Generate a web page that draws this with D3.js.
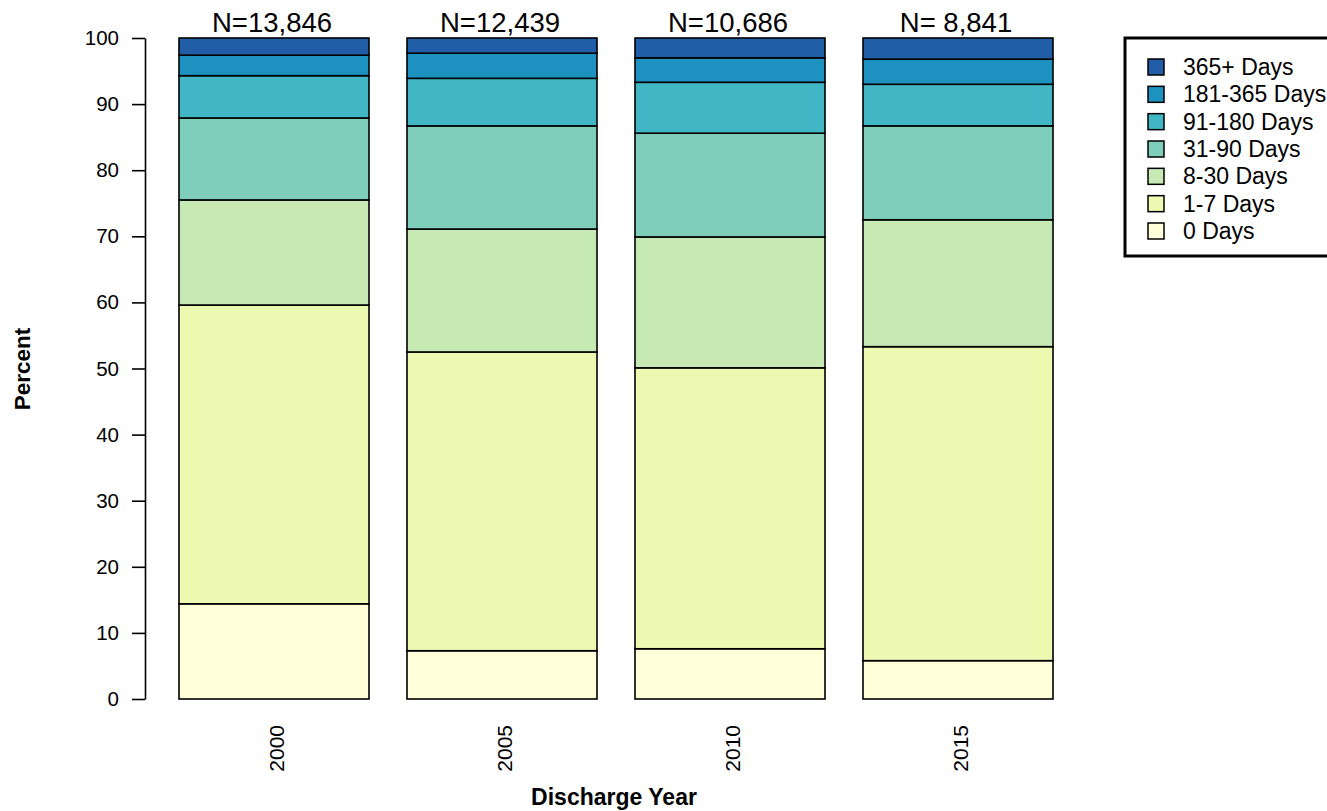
<!DOCTYPE html>
<html>
<head>
<meta charset="utf-8">
<script src="https://cdn.jsdelivr.net/npm/d3@7"></script>
<style>
  html, body { margin: 0; padding: 0; background: #fff; }
  svg { display: block; font-family: "Liberation Sans", Arial, sans-serif; }
</style>
</head>
<body>
<svg id="chart" width="1327" height="811"></svg>
<script>
// ---- data ----
const years = ["2000", "2005", "2010", "2015"];
const nLabels = ["N=13,846", "N=12,439", "N=10,686", "N= 8,841"];
const categories = ["0 Days", "1-7 Days", "8-30 Days", "31-90 Days", "91-180 Days", "181-365 Days", "365+ Days"];
const colors = ["#ffffd9", "#edf8b1", "#c7e9b4", "#7fcdbb", "#41b6c4", "#1d91c0", "#225ea8"];
const days0     = [14.4, 7.3, 7.6, 5.8];
const days1to7  = [45.2, 45.2, 42.5, 47.5];
const days8to30 = [15.9, 18.6, 19.8, 19.2];
const days31to90 = [12.4, 15.6, 15.7, 14.2];
const days91to180 = [6.4, 7.2, 7.7, 6.3];
const days181to365 = [3.1, 3.8, 3.7, 3.8];
const days365plus = [2.6, 2.3, 3.0, 3.2];
const yTicks = [0, 10, 20, 30, 40, 50, 60, 70, 80, 90, 100];

const seriesValues = [days0, days1to7, days8to30, days31to90, days91to180, days181to365, days365plus];
const table = years.map((yr, i) => {
  const row = { year: yr };
  categories.forEach((c, k) => row[c] = seriesValues[k][i]);
  return row;
});

const svg = d3.select("#chart");
const y = d3.scaleLinear().domain([0, 100]).range([699, 38]);
const x = d3.scaleBand().domain(years).range([141, 1091]).paddingInner(38 / 228).paddingOuter(38 / 228);
const color = d3.scaleOrdinal().domain(categories).range(colors);

const stack = d3.stack().keys(categories)(table);

// bars
svg.append("g").selectAll("g").data(stack).join("g")
  .attr("fill", d => color(d.key))
  .selectAll("rect").data(d => d).join("rect")
  .attr("x", d => x(d.data.year))
  .attr("width", x.bandwidth())
  .attr("y", d => y(d[1]))
  .attr("height", d => y(d[0]) - y(d[1]))
  .attr("stroke", "#000")
  .attr("stroke-width", 1.6);

// y axis
const yAxis = svg.append("g").attr("transform", "translate(145,0)")
  .call(d3.axisLeft(y).tickValues(yTicks).tickSize(13).tickSizeOuter(0).tickPadding(13));
yAxis.attr("font-size", 20.5).attr("font-family", '"Liberation Sans", Arial, sans-serif');
yAxis.select(".domain").attr("stroke", "#000").attr("stroke-width", 1.6);
yAxis.selectAll(".tick line").attr("stroke", "#000").attr("stroke-width", 1.6);
yAxis.selectAll("text").attr("fill", "#000");

// x labels (rotated)
svg.append("g").selectAll("text").data(years).join("text")
  .attr("transform", d => `translate(${x(d) + x.bandwidth() / 2 + 3},725) rotate(-90)`)
  .attr("text-anchor", "end")
  .attr("dy", "0.35em")
  .attr("font-size", 21)
  .attr("fill", "#000")
  .text(d => d);

// N labels
svg.append("g").selectAll("text").data(years).join("text")
  .attr("x", d => x(d) + x.bandwidth() / 2 - 2)
  .attr("y", 32)
  .attr("text-anchor", "middle")
  .attr("font-size", 27.5)
  .attr("fill", "#000")
  .text((d, i) => nLabels[i]);

// axis titles
svg.append("text")
  .attr("x", 614).attr("y", 805)
  .attr("text-anchor", "middle")
  .attr("font-size", 23).attr("font-weight", "bold").attr("fill", "#000")
  .text("Discharge Year");
svg.append("text")
  .attr("transform", "translate(30,369) rotate(-90)")
  .attr("text-anchor", "middle")
  .attr("font-size", 22.5).attr("font-weight", "bold").attr("fill", "#000")
  .text("Percent");

// legend
const legend = svg.append("g");
legend.append("rect")
  .attr("x", 1125).attr("y", 38).attr("width", 260).attr("height", 218)
  .attr("fill", "#fff").attr("stroke", "#000").attr("stroke-width", 3);
const legendOrder = categories.slice().reverse();
const ly = d3.scalePoint().domain(legendOrder).range([67, 231]);
const items = legend.selectAll("g.item").data(legendOrder).join("g").attr("class", "item");
items.append("rect")
  .attr("x", 1148).attr("y", d => ly(d) - 8)
  .attr("width", 16).attr("height", 16)
  .attr("fill", d => color(d)).attr("stroke", "#000").attr("stroke-width", 1.5);
items.append("text")
  .attr("x", 1183).attr("y", d => ly(d))
  .attr("dy", "0.35em")
  .attr("font-size", 23).attr("fill", "#000")
  .text(d => d);
</script>
</body>
</html>
